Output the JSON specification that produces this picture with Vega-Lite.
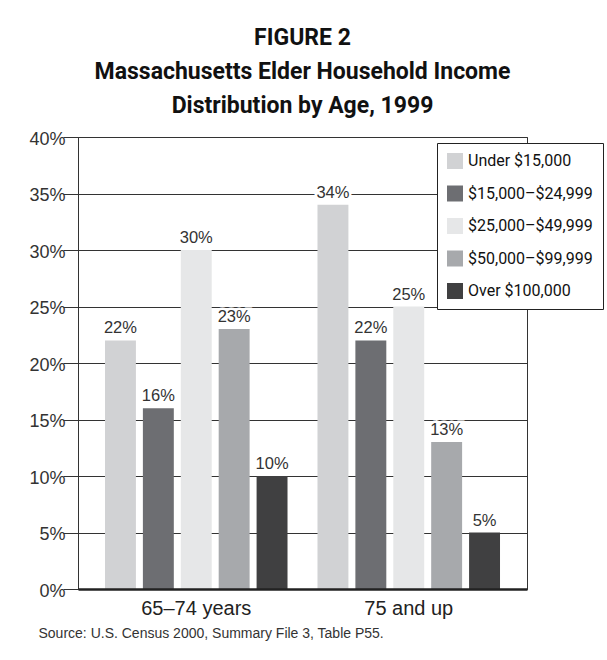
{
  "$schema": "https://vega.github.io/schema/vega-lite/v6.json",
  "width": 449,
  "height": 452,
  "autosize": {"type": "none"},
  "padding": {"left": 78, "top": 137, "right": 80, "bottom": 71},
  "background": "white",
  "title": {
    "text": ["FIGURE 2", "Massachusetts Elder Household Income", "Distribution by Age, 1999"],
    "font": "Roboto, sans-serif",
    "fontSize": 23,
    "fontWeight": "bold",
    "color": "#111",
    "lineHeight": 34,
    "anchor": "middle",
    "offset": 12
  },
  "config": {
    "view": {"stroke": "#333", "strokeWidth": 1}
  },
  "data": {
    "values": [
      {"age": "65–74 years", "income": "Under $15,000", "share": 0.22},
      {"age": "65–74 years", "income": "$15,000–$24,999", "share": 0.16},
      {"age": "65–74 years", "income": "$25,000–$49,999", "share": 0.30},
      {"age": "65–74 years", "income": "$50,000–$99,999", "share": 0.23},
      {"age": "65–74 years", "income": "Over $100,000", "share": 0.10},
      {"age": "75 and up", "income": "Under $15,000", "share": 0.34},
      {"age": "75 and up", "income": "$15,000–$24,999", "share": 0.22},
      {"age": "75 and up", "income": "$25,000–$49,999", "share": 0.25},
      {"age": "75 and up", "income": "$50,000–$99,999", "share": 0.13},
      {"age": "75 and up", "income": "Over $100,000", "share": 0.05}
    ]
  },
  "encoding": {
    "x": {
      "field": "age",
      "type": "nominal",
      "sort": ["65–74 years", "75 and up"],
      "scale": {"paddingInner": 0.141, "paddingOuter": 0.127},
      "axis": {
        "zindex": 1,
        "labelAngle": 0,
        "ticks": false,
        "domainColor": "#222",
        "domainWidth": 2.5,
        "labelFont": "Liberation Sans, Arial, sans-serif",
        "labelFontSize": 20,
        "labelColor": "#222",
        "labelPadding": 9,
        "title": "Source: U.S. Census 2000, Summary File 3, Table P55.",
        "titleAnchor": "start",
        "titleAlign": "left",
        "titleX": -40,
        "titleY": 37,
        "titleBaseline": "top",
        "titleFont": "Liberation Sans, Arial, sans-serif",
        "titleFontSize": 14,
        "titleFontWeight": "normal",
        "titleColor": "#333"
      }
    },
    "xOffset": {
      "field": "income",
      "type": "nominal",
      "sort": ["Under $15,000", "$15,000–$24,999", "$25,000–$49,999", "$50,000–$99,999", "Over $100,000"],
      "scale": {"paddingInner": 0.184, "paddingOuter": 0}
    },
    "y": {
      "field": "share",
      "type": "quantitative",
      "scale": {"domain": [0, 0.4], "nice": false},
      "axis": {
        "values": [0, 0.05, 0.1, 0.15, 0.2, 0.25, 0.3, 0.35, 0.4],
        "format": ".0%",
        "grid": true,
        "gridColor": "#333",
        "gridWidth": 1,
        "gridOpacity": 1,
        "tickSize": 15,
        "tickColor": "#333",
        "domainColor": "#333",
        "labelFont": "Liberation Sans, Arial, sans-serif",
        "labelFontSize": 18,
        "labelColor": "#333",
        "labelPadding": -2,
        "labelOffset": 2,
        "title": null
      }
    }
  },
  "layer": [
    {
      "mark": {"type": "bar"},
      "encoding": {
        "color": {
          "field": "income",
          "type": "nominal",
          "scale": {
            "domain": ["Under $15,000", "$15,000–$24,999", "$25,000–$49,999", "$50,000–$99,999", "Over $100,000"],
            "range": ["#d1d2d4", "#6d6e72", "#e6e7e8", "#a7a9ac", "#404041"]
          },
          "legend": {
            "title": null,
            "orient": "none",
            "legendX": 359,
            "legendY": 6,
            "fillColor": "white",
            "strokeColor": "#222",
            "padding": 10,
            "symbolType": "square",
            "symbolSize": 256,
            "symbolStrokeWidth": 0,
            "symbolOpacity": 1,
            "labelFont": "Roboto, sans-serif",
            "labelFontSize": 16,
            "labelColor": "#111",
            "labelOffset": 5,
            "rowPadding": 16.5
          }
        }
      }
    },
    {
      "mark": {
        "type": "text",
        "baseline": "alphabetic",
        "dy": -7,
        "font": "Liberation Sans, Arial, sans-serif",
        "fontSize": 16.5,
        "fill": "white",
        "stroke": "white",
        "strokeWidth": 5
      },
      "encoding": {"text": {"field": "share", "type": "quantitative", "format": ".0%"}}
    },
    {
      "mark": {
        "type": "text",
        "baseline": "alphabetic",
        "dy": -7,
        "font": "Liberation Sans, Arial, sans-serif",
        "fontSize": 16.5,
        "fill": "#333"
      },
      "encoding": {"text": {"field": "share", "type": "quantitative", "format": ".0%"}}
    }
  ]
}
